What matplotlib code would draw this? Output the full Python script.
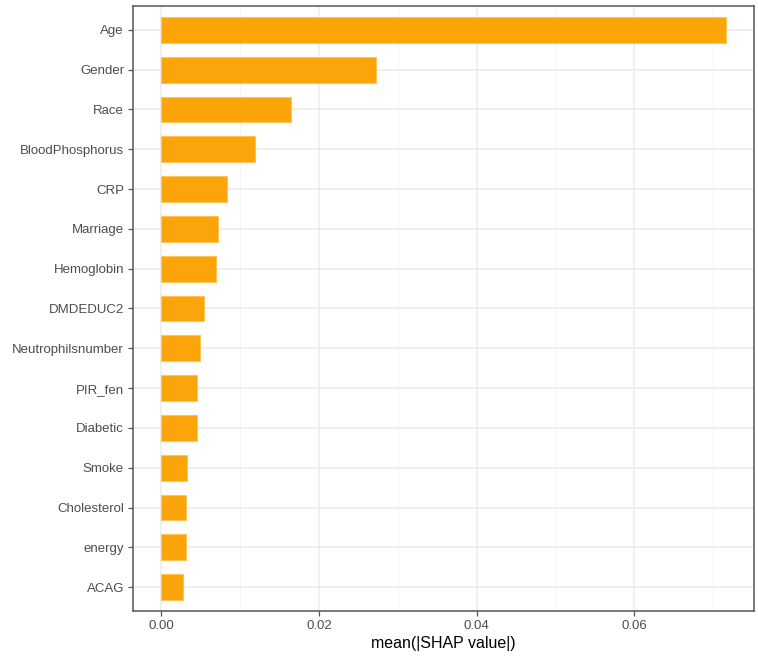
import matplotlib
matplotlib.use("Agg")
import matplotlib.pyplot as plt
from matplotlib.ticker import MultipleLocator, FixedLocator

features = ["Age", "Gender", "Race", "BloodPhosphorus", "CRP", "Marriage",
            "Hemoglobin", "DMDEDUC2", "Neutrophilsnumber", "PIR_fen",
            "Diabetic", "Smoke", "Cholesterol", "energy", "ACAG"]
shap_values = [0.0716, 0.0272, 0.0165, 0.0119, 0.0084, 0.00715,
               0.0070, 0.0054, 0.0049, 0.0045,
               0.0045, 0.0033, 0.0031, 0.0031, 0.0028]
xticks = [0.00, 0.02, 0.04, 0.06]
xtick_labels = ["0.00", "0.02", "0.04", "0.06"]

plt.rcParams['font.family'] = ['Liberation Sans', 'DejaVu Sans']

fig = plt.figure(figsize=(7.58, 6.60), dpi=100)
ax = fig.add_axes([0.1755, 0.0742, 0.8192, 0.9168])

n = len(features)
ypos = list(range(n - 1, -1, -1))
ax.barh(ypos, shap_values, height=0.65, color="#FCA50A",
        edgecolor="#FFC458", linewidth=0.8, zorder=3)

xmax = max(shap_values)
pad = 0.05 * xmax
ax.set_xlim(-pad, xmax + pad)
ax.set_ylim(-0.6, n - 1 + 0.6)

ax.set_yticks(ypos)
ax.set_yticklabels(features)
ax.xaxis.set_major_locator(FixedLocator(xticks))
ax.set_xticklabels(xtick_labels)
ax.xaxis.set_minor_locator(MultipleLocator(0.01))

ax.grid(which="major", color="#EBEBEB", linewidth=1.1, zorder=0)
ax.grid(which="minor", axis="x", color="#F2F2F2", linewidth=0.6, zorder=0)
ax.set_axisbelow(True)

for s in ax.spines.values():
    s.set_color("#555555")
    s.set_linewidth(1.1)

ax.tick_params(axis="both", which="major", length=3.5, width=0.9,
               color="#555555", labelcolor="#4D4D4D", labelsize=9.5, pad=3)
ax.tick_params(axis="both", which="minor", length=0)

ax.set_xlabel("mean(|SHAP value|)", fontsize=11.5, color="black", labelpad=3)

fig.savefig("out.png", dpi=100)
